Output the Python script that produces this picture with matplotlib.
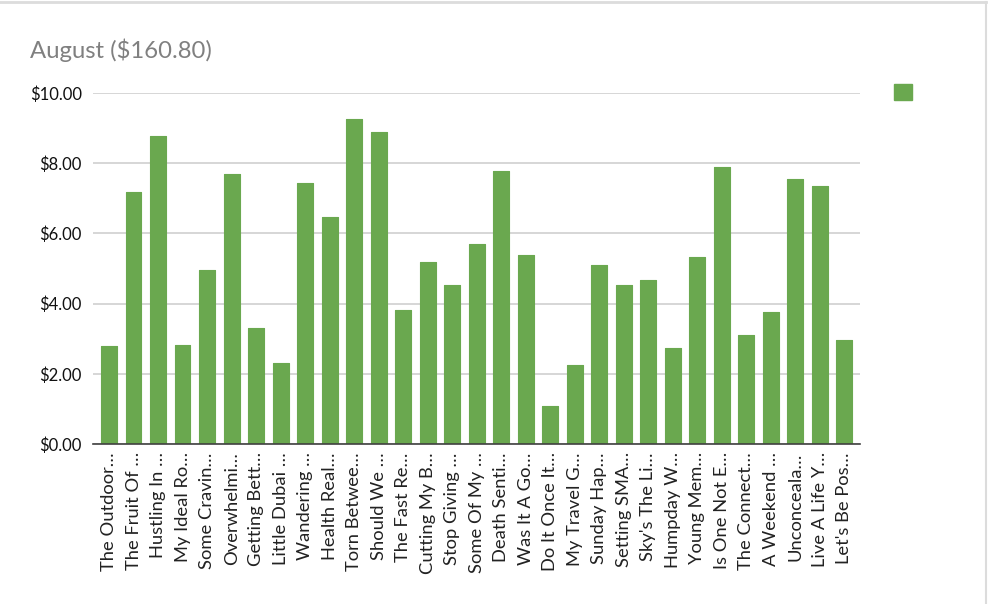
import matplotlib.pyplot as plt
from matplotlib.patches import Patch
from matplotlib.lines import Line2D
from matplotlib.ticker import FuncFormatter

plt.rcParams['font.family'] = ['Lato', 'DejaVu Sans']

# post titles (truncated as shown) and earnings in dollars
titles = [
    "The Outdoor…", "The Fruit Of …", "Hustling In …", "My Ideal Ro…",
    "Some Cravin…", "Overwhelmi…", "Getting Bett…", "Little Dubai …",
    "Wandering …", "Health Real…", "Torn Betwee…", "Should We …",
    "The Fast Re…", "Cutting My B…", "Stop Giving …", "Some Of My …",
    "Death Senti…", "Was It A Go…", "Do It Once It…", "My Travel G…",
    "Sunday Hap…", "Setting SMA…", "Sky's The Li…", "Humpday W…",
    "Young Mem…", "Is One Not E…", "The Connect…", "A Weekend …",
    "Unconceala…", "Live A Life Y…", "Let's Be Pos…",
]
earnings = [
    2.78, 7.17, 8.77, 2.83, 4.95, 7.69, 3.30, 2.31, 7.45, 6.46, 9.25,
    8.88, 3.82, 5.19, 4.52, 5.70, 7.79, 5.38, 1.08, 2.26, 5.10, 4.52,
    4.67, 2.73, 5.33, 7.88, 3.11, 3.77, 7.55, 7.36, 2.97,
]
y_ticks = [0, 2, 4, 6, 8, 10]
title = "August ($160.80)"

green = "#6aa84f"

fig = plt.figure(figsize=(9.88, 6.04), dpi=100)
ax = fig.add_axes([0.0941, 0.2649, 0.7763, 0.5811])

x = list(range(len(titles)))
ax.bar(x, earnings, width=0.64, color=green, edgecolor=green,
       linewidth=0.8, joinstyle="round", zorder=3)

ax.set_xlim(-0.66, len(titles) - 0.36)
ax.set_ylim(0, 10)
ax.set_yticks(y_ticks)
ax.yaxis.set_major_formatter(FuncFormatter(lambda v, p: f"${v:.2f}"))
ax.set_xticks(x)
ax.set_xticklabels(titles, rotation=90, va="top", ha="center")

ax.grid(axis="y", color="#d0d0d0", linewidth=1.2, zorder=0)
for s in ["top", "right", "left"]:
    ax.spines[s].set_visible(False)
ax.spines["bottom"].set_color("#404040")
ax.spines["bottom"].set_linewidth(1.2)
ax.spines["bottom"].set_zorder(4)

ax.tick_params(axis="y", length=0, pad=8, labelsize=12, labelcolor="#111111")
ax.tick_params(axis="x", length=0, pad=6, labelsize=13.2, labelcolor="#222222")

fig.text(0.030, 0.917, title, fontsize=17.2, color="#808080", va="center")

# legend with a lone colour key, as in the original
fig.legend(handles=[Patch(facecolor=green, edgecolor=green)], labels=[""],
           loc="upper left", bbox_to_anchor=(0.896, 0.876), frameon=False,
           handlelength=1.0, handleheight=1.0, fontsize=13, borderpad=0,
           handletextpad=0)

# window borders
fig.add_artist(Line2D([0, 0.998], [0.997, 0.997], color="#dcdcdc", linewidth=2))
fig.add_artist(Line2D([0.998, 0.998], [0, 0.997], color="#dcdcdc", linewidth=1.5))

fig.savefig("out.png", dpi=100)
plt.close(fig)
